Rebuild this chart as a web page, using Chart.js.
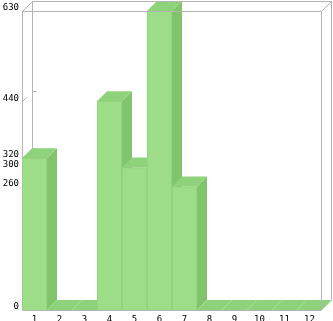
<!DOCTYPE html>
<html lang="en">
<head>
    <meta charset="UTF-8">
    <title>bars3d</title>
    <style>
        html, body { margin: 0; padding: 0; background: #fff; }
        #wrap { width: 333px; height: 321px; }
    </style>
</head>
<body>
    <div id="wrap"><canvas id="myChart" width="333" height="321"></canvas></div>
    <script src="https://cdn.jsdelivr.net/npm/chart.js"></script>
    <script>
        let categories = ['1', '2', '3', '4', '5', '6', '7', '8', '9', '10', '11', '12'];
        let values = [320, 0, 0, 440, 300, 630, 260, 0, 0, 0, 0, 0];
        let yTicks = [0, 260, 300, 320, 440, 630];

        const DEPTH = 10;
        const LINE = '#b4b4b4';

        function line(ctx, x1, y1, x2, y2) {
            ctx.beginPath();
            ctx.moveTo(x1, y1);
            ctx.lineTo(x2, y2);
            ctx.stroke();
        }

        // back wall, tick marks, side + top faces of the bars
        let box3d = {
            id: 'box3d',
            beforeDatasetsDraw(chart) {
                let ctx = chart.ctx;
                let a = chart.chartArea;
                let L = Math.round(a.left) + 0.5, R = Math.round(a.right) - 0.5;
                let T = Math.round(a.top) + 0.5, B = Math.round(a.bottom) - 0.5;
                let y = chart.scales.y;
                ctx.save();
                ctx.strokeStyle = LINE;
                ctx.lineWidth = 1;
                line(ctx, L + DEPTH, T - DEPTH, L + DEPTH, B - DEPTH);
                line(ctx, R + DEPTH, T - DEPTH, R + DEPTH, B - DEPTH);
                line(ctx, L, T, L, B);
                line(ctx, L, T, L + DEPTH, T - DEPTH);
                line(ctx, R, B, R + DEPTH, B - DEPTH);
                yTicks.forEach(v => {
                    let py = Math.round(y.getPixelForValue(v)) + 0.5;
                    line(ctx, L + DEPTH, py - DEPTH, L + DEPTH + 4, py - DEPTH);
                    line(ctx, L, py, L + 4, py - 4);
                });

                let meta = chart.getDatasetMeta(0);
                meta.data.forEach(bar => {
                    let left = bar.x - bar.width / 2;
                    let right = bar.x + bar.width / 2;
                    let top = bar.y;
                    let bottom = bar.base;
                    // side
                    ctx.fillStyle = '#80c46c';
                    ctx.beginPath();
                    ctx.moveTo(right, top);
                    ctx.lineTo(right + DEPTH, top - DEPTH);
                    ctx.lineTo(right + DEPTH, bottom - DEPTH);
                    ctx.lineTo(right, bottom);
                    ctx.closePath();
                    ctx.fill();
                    // top
                    ctx.fillStyle = '#8ed37b';
                    ctx.beginPath();
                    ctx.moveTo(left, top);
                    ctx.lineTo(left + DEPTH, top - DEPTH);
                    ctx.lineTo(right + DEPTH, top - DEPTH);
                    ctx.lineTo(right, top);
                    ctx.closePath();
                    ctx.fill();
                });
                ctx.restore();
            },
            afterDatasetsDraw(chart) {
                let ctx = chart.ctx;
                let a = chart.chartArea;
                let L = Math.round(a.left) + 0.5, R = Math.round(a.right) - 0.5;
                let T = Math.round(a.top) + 0.5, B = Math.round(a.bottom) - 0.5;
                ctx.save();
                ctx.strokeStyle = LINE;
                ctx.lineWidth = 1;
                line(ctx, L + DEPTH, T - DEPTH, R + DEPTH, T - DEPTH);
                line(ctx, R, T, R + DEPTH, T - DEPTH);
                line(ctx, L, T, R, T);
                line(ctx, R, T, R, B);
                line(ctx, L, B + 1, R, B + 1);
                ctx.restore();
            }
        };

        let ctx = document.getElementById('myChart');
        let myChart = new Chart(ctx, {
            type: 'bar',
            data: {
                labels: categories,
                datasets: [{
                    data: values,
                    backgroundColor: '#9edd88',
                    borderColor: '#90d07c',
                    borderWidth: 1,
                    categoryPercentage: 1,
                    barPercentage: 1
                }]
            },
            options: {
                responsive: false,
                animation: false,
                layout: { padding: { top: 11, right: 11, left: 0, bottom: 0 } },
                plugins: {
                    legend: { display: false },
                    tooltip: { enabled: false }
                },
                scales: {
                    x: {
                        grid: { display: false, drawTicks: false },
                        border: { display: false },
                        ticks: {
                            color: '#000',
                            font: { family: 'DejaVu Sans Mono', size: 9 },
                            padding: 4,
                            maxRotation: 0,
                            autoSkip: false
                        },
                        afterFit(scale) { scale.height = 11; }
                    },
                    y: {
                        min: 0,
                        max: 630,
                        grid: { display: false, drawTicks: false },
                        border: { display: false },
                        afterBuildTicks(scale) {
                            scale.ticks = yTicks.map(v => ({ value: v }));
                        },
                        ticks: {
                            color: '#000',
                            font: { family: 'DejaVu Sans Mono', size: 9 },
                            padding: 3,
                            labelOffset: -3,
                            autoSkip: false
                        },
                        afterFit(scale) { scale.width = 22; }
                    }
                }
            },
            plugins: [box3d]
        });
    </script>
</body>
</html>
